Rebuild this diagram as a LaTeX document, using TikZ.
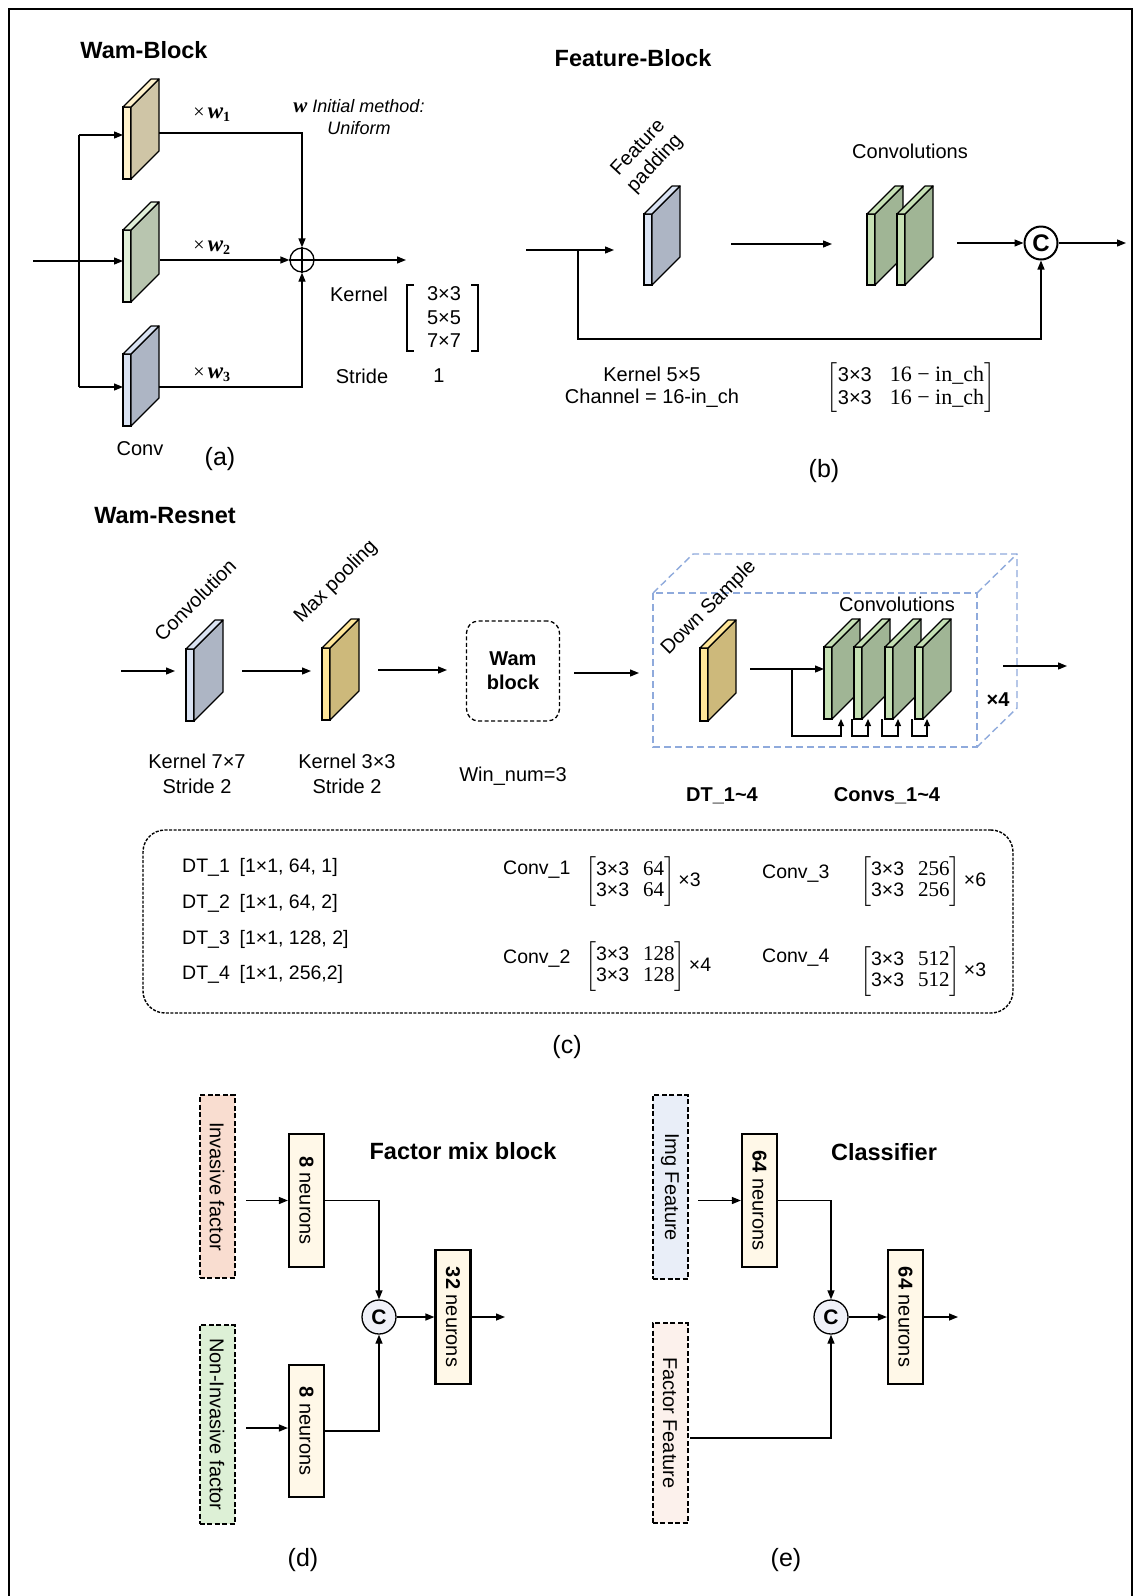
\RequirePackage{fix-cm}
\documentclass[tikz,border=0pt]{standalone}
\usepackage{amsmath}
\usepackage[no-math]{fontspec}
\setmainfont{Liberation Sans}
\newfontfamily\sr{Liberation Serif}
\usetikzlibrary{arrows.meta,calc}
\definecolor{tanF}{HTML}{FFF2CC}\definecolor{tanS}{HTML}{CFC5A6}
\definecolor{grnF}{HTML}{E2F0D9}\definecolor{grnS}{HTML}{B8C5AF}
\definecolor{bluF}{HTML}{DAE3F3}\definecolor{bluS}{HTML}{ADB5C4}
\definecolor{golF}{HTML}{FFE699}\definecolor{golS}{HTML}{CDB97B}
\definecolor{cnvF}{HTML}{C5E0B4}\definecolor{cnvS}{HTML}{A0B595}
\definecolor{cubeC}{HTML}{8FAADC}
\definecolor{invF}{HTML}{F9DDD0}\definecolor{noninvF}{HTML}{DDF0D6}
\definecolor{imgF}{HTML}{E9EEF8}\definecolor{facF}{HTML}{FCF1EC}
\definecolor{neuF}{HTML}{FFF8E8}\definecolor{cF}{HTML}{F0F1F8}
% #1 name, #2 x left, #3 y top, #4 height, #5 front colour, #6 side colour, #7 depth
\newcommand{\myplate}[7]{%
  \node[platefront,fill=#5,minimum height=#4pt] (#1) at (#2+4,#3+#4/2) {};
  \filldraw[plateline,fill=#6] (#1.north east) -- ++(#7,-#7) -- ++(0,#4) -- (#1.south east) -- cycle;
  \filldraw[plateline,fill=#5] (#1.north west) -- ++(#7,-#7) -- ++(8,0) -- (#1.north east) -- cycle;
}
\newcommand{\tmat}[1]{$\left[\begin{tabular}{@{}l@{\hspace{14pt}}r@{}}3×3 & {\sr\fontsize{21}{21}\selectfont #1}\\ 3×3 & {\sr\fontsize{21}{21}\selectfont #1}\end{tabular}\right]$}
\newcommand{\wlab}[1]{{\sr ×}\,{\sr\bfseries\itshape\fontsize{23}{23}\selectfont w}\textsubscript{\sr\bfseries #1}}
\begin{document}
\begin{tikzpicture}[x=1pt,y=-1pt,
  ln/.style={line width=1.3pt},
  arr/.style={line width=1.3pt,-{Triangle[length=9pt,width=7pt]}},
  sarr/.style={line width=1.2pt,-{Triangle[length=7pt,width=6pt]}},
  platefront/.style={draw,line width=1.2pt,minimum width=8pt,inner sep=0pt,outer sep=0pt},
  plateline/.style={line width=1.2pt,line join=round},
  txt/.style={font=\fontsize{20}{23}\selectfont,inner sep=0pt,align=center},
  btxt/.style={font=\fontsize{20}{23}\selectfont\bfseries,inner sep=0pt,align=center},
  ttl/.style={font=\fontsize{23.5}{27}\selectfont\bfseries,inner sep=0pt},
  sub/.style={font=\fontsize{25}{29}\selectfont,inner sep=0pt},
  tab/.style={font=\fontsize{19.5}{21}\selectfont,inner sep=0pt,anchor=west},
  fbox/.style={draw,dash pattern=on 5pt off 2.5pt,line width=2pt,minimum width=35pt,inner sep=0pt,font=\fontsize{20}{23}\selectfont},
  nbox/.style={draw,line width=2.2pt,fill=neuF,minimum width=35pt,minimum height=133pt,inner sep=0pt,font=\fontsize{20}{23}\selectfont},
  cnode/.style={circle,draw,line width=1.3pt,fill=cF,minimum size=34pt,inner sep=0pt,font=\fontsize{21}{22}\selectfont\bfseries},
  cube/.style={draw=cubeC,line width=1.4pt,dash pattern=on 7pt off 4pt}]
\useasboundingbox (0,0) rectangle (1140,1596);
\fill[white] (0,0) rectangle (1140,1596);
\draw[line width=1.5pt] (9,1596) -- (9,9) -- (1132,9) -- (1132,1596);

% titles
\node[ttl] (tA) at (144,50) {Wam-Block};
\node[ttl] (tB) at (633,58) {Feature-Block};
\node[ttl] (tC) at (165,516) {Wam-Resnet};
\node[ttl] (tD) at (463,1151) {Factor mix block};
\node[ttl] (tE) at (884,1152) {Classifier};

% ---------------- (a)
\myplate{a1}{123}{107}{72}{tanF}{tanS}{28}
\myplate{a2}{123}{230}{72}{grnF}{grnS}{28}
\myplate{a3}{123}{354}{72}{bluF}{bluS}{28}
\coordinate (ain) at (33,261);
\draw[arr] (ain) -- (ain -| a2.west);
\coordinate (av1) at (79,135);
\coordinate (av3) at (79,387);
\draw[ln] (av1) -- (av3);
\draw[arr] (av1) -- (av1 -| a1.west);
\draw[arr] (av3) -- (av3 -| a3.west);
\node[circle,draw,line width=1.3pt,minimum size=24pt,inner sep=0pt] (op) at (302,260) {};
\draw[line width=1.3pt] (op.north) -- (op.south) (op.west) -- (op.east);
\coordinate (ao1) at (159,133);
\coordinate (ao2) at (160,260);
\coordinate (ao3) at (159,387);
\draw[arr] (ao1) -| (op.north);
\draw[arr] (ao2) -- (op.west);
\draw[arr] (ao3) -| (op.south);
\coordinate (aout) at (406,260);
\draw[arr] (op.east) -- (aout);
\node[txt] (w1) at (212,115) {\wlab{1}};
\node[txt] (w2) at (212,248) {\wlab{2}};
\node[txt] (w3) at (212,375) {\wlab{3}};
\node[txt,font=\fontsize{18}{21}\selectfont\itshape] (winit) at (359,106) {{\sr\bfseries\fontsize{21}{21}\selectfont w} Initial method:};
\node[txt,font=\fontsize{18}{21}\selectfont\itshape] (wuni) at (359,128) {Uniform};
\node[txt] (kern) at (359,294) {Kernel};
\draw[line width=1.2pt] (414,285) -- (407,285) -- (407,351) -- (414,351);
\draw[line width=1.2pt] (471,285) -- (478,285) -- (478,351) -- (471,351);
\node[txt] (k3) at (444,294) {3×3};
\node[txt] (k5) at (444,318) {5×5};
\node[txt] (k7) at (444,341) {7×7};
\node[txt] (strA) at (362,376) {Stride};
\node[txt] (s1) at (439,376) {1};
\node[txt] (convA) at (140,449) {Conv};
\node[sub] (capA) at (220,459) {(a)};

% ---------------- (b)
\myplate{b1}{644}{214}{71}{bluF}{bluS}{28}
\myplate{b2}{867}{214}{71}{cnvF}{cnvS}{28}
\myplate{b3}{897}{214}{71}{cnvF}{cnvS}{28}
\node[txt,rotate=47] (fpad) at (647,156) {Feature\\padding};
\node[txt] (convB) at (910,151) {Convolutions};
\coordinate (bin) at (526,250);
\coordinate (bine) at (614,250);
\draw[arr] (bin) -- (bine);
\coordinate (bbr) at (578,250);
\coordinate (bbot) at (578,339);
\node[circle,draw,line width=2pt,fill=white,minimum size=33pt,inner sep=0pt,font=\fontsize{24}{26}\selectfont\bfseries] (bc) at (1041,243) {C};
\draw[arr] (bbr) -- (bbot) -| (bc.south);
\coordinate (bm1) at (731,244);
\coordinate (bm2) at (832,244);
\draw[arr] (bm1) -- (bm2);
\coordinate (bm3) at (957,243);
\draw[arr] (bm3) -- (bc.west);
\coordinate (bout) at (1126,243);
\draw[arr] (bc.east) -- (bout);
\node[txt] (bk1) at (652,374) {Kernel 5×5};
\node[txt] (bk2) at (652,398) {Channel = 16-in\_ch};
\node[txt] (bmat) at (911,388) {$\left[\begin{tabular}{@{}l@{\hspace{18pt}}l@{}}3×3 & {\sr\fontsize{22}{22}\selectfont 16 − in\_ch}\\ 3×3 & {\sr\fontsize{22}{22}\selectfont 16 − in\_ch}\end{tabular}\right]$};
\node[sub] (capB) at (824,471) {(b)};

% ---------------- (c)
\coordinate (cin) at (121,671);
\coordinate (cine) at (175,671);
\draw[arr] (cin) -- (cine);
\myplate{c1}{186}{649}{72}{bluF}{bluS}{29}
\node[txt,rotate=45] (lconv) at (195,600) {Convolution};
\coordinate (cm1) at (242,671);
\coordinate (cm1e) at (311,671);
\draw[arr] (cm1) -- (cm1e);
\myplate{c2}{322}{648}{72}{golF}{golS}{29}
\node[txt,rotate=45] (lmax) at (336,582) {Max pooling};
\coordinate (cm2) at (378,670);
\coordinate (cm2e) at (447,670);
\draw[arr] (cm2) -- (cm2e);
\node[draw,dash pattern=on 4pt off 2.5pt,rounded corners=12pt,minimum width=93pt,minimum height=100pt,line width=1.3pt,font=\fontsize{20}{24}\selectfont\bfseries,align=center] (wam) at (513,671) {Wam\\block};
\coordinate (cm3) at (574,673);
\coordinate (cm3e) at (639,673);
\draw[arr] (cm3) -- (cm3e);
% dashed cube
\draw[cube] (653,593) rectangle (977,747);
\draw[cube] (653,593) -- (693,554) -- (1017,554) -- (1017,708) -- (977,747);
\draw[cube] (977,593) -- (1017,554);
\myplate{c3}{700}{648}{73}{golF}{golS}{28}
\node[txt,rotate=45] (ldown) at (709,608) {Down Sample};
\myplate{g1}{824}{647}{72}{cnvF}{cnvS}{28}
\myplate{g2}{854}{647}{72}{cnvF}{cnvS}{28}
\myplate{g3}{885}{647}{72}{cnvF}{cnvS}{28}
\myplate{g4}{915}{647}{72}{cnvF}{cnvS}{28}
\node[txt] (convC) at (897,604) {Convolutions};
\coordinate (cd1) at (750,669);
\draw[arr] (cd1) -- (cd1 -| g1.west);
\coordinate (lp1a) at (792,669);
\coordinate (lp1b) at (841,719);
\coordinate (lp2b) at (868,719);
\coordinate (lp3b) at (898,719);
\coordinate (lp4b) at (927,719);
\draw[sarr] (lp1a) -- ++(0,67) -| (lp1b);
\draw[sarr] ([xshift=-2pt]g2.south west) -- ++(0,17) -| (lp2b);
\draw[sarr] ([xshift=-3pt]g3.south west) -- ++(0,17) -| (lp3b);
\draw[sarr] ([xshift=-3pt]g4.south west) -- ++(0,17) -| (lp4b);
\node[btxt] (x4) at (998,700) {×4};
\coordinate (cout) at (1003,666);
\coordinate (coute) at (1067,666);
\draw[arr] (cout) -- (coute);
\node[txt] (kc1) at (197,761) {Kernel 7×7};
\node[txt] (sc1) at (197,786) {Stride 2};
\node[txt] (kc2) at (347,761) {Kernel 3×3};
\node[txt] (sc2) at (347,786) {Stride 2};
\node[txt] (winn) at (513,776) {Win\_num=3};
\node[btxt] (dtl) at (722,796) {DT\_1\textasciitilde4};
\node[btxt] (cvl) at (887,796) {Convs\_1\textasciitilde4};

% table
\node[draw,dash pattern=on 3pt off 1.5pt,line width=1.4pt,rounded corners=22pt,minimum width=870pt,minimum height=183pt,inner sep=0pt] (tbl) at (578,921.5) {};
\node[tab] (dt1) at (182,867) {DT\_1\enspace[1×1, 64, 1]};
\node[tab] (dt2) at (182,903) {DT\_2\enspace[1×1, 64, 2]};
\node[tab] (dt3) at (182,939) {DT\_3\enspace[1×1, 128, 2]};
\node[tab] (dt4) at (182,974) {DT\_4\enspace[1×1, 256,2]};
\node[tab] (cv1) at (503,870) {Conv\_1};
\node[tab] (cv2) at (503,959) {Conv\_2};
\node[tab] (cv3) at (762,874) {Conv\_3};
\node[tab] (cv4) at (762,958) {Conv\_4};
\node[tab] (m1t) at (585,882) {\tmat{64}\,×3};
\node[tab] (m2t) at (585,967) {\tmat{128}\,×4};
\node[tab] (m3t) at (860,882) {\tmat{256}\,×6};
\node[tab] (m4t) at (860,972) {\tmat{512}\,×3};
\node[sub] (capC) at (567,1047) {(c)};

% ---------------- (d)
\node[fbox,fill=invF,minimum height=183pt] (inv) at (217,1186.5) {\rotatebox{-90}{Invasive factor}};
\node[fbox,fill=noninvF,minimum height=199pt] (ninv) at (217,1424.5) {\rotatebox{-90}{Non-Invasive factor}};
\node[nbox] (n1) at (306.5,1200.5) {\rotatebox{-90}{\textbf{8} neurons}};
\node[nbox,minimum height=132pt] (n2) at (306.5,1431) {\rotatebox{-90}{\textbf{8} neurons}};
\node[cnode] (cd) at (379,1317) {C};
\node[nbox,minimum height=134pt] (n3) at (453,1317) {\rotatebox{-90}{\textbf{32} neurons}};
\coordinate (din1) at (246,1200.5);
\coordinate (din2) at (246,1428);
\draw[arr] (din1) -- (din1 -| n1.west);
\draw[arr] (din2) -- (din2 -| n2.west);
\draw[arr] (n1.east) -| (cd.north);
\draw[arr] (n2.east) -| (cd.south);
\draw[arr] (cd.east) -- (n3.west);
\coordinate (dout) at (505,1317);
\draw[arr] (n3.east) -- (dout);
\node[sub] (capD) at (303,1560) {(d)};

% ---------------- (e)
\node[fbox,fill=imgF,minimum height=184pt] (img) at (670,1187) {\rotatebox{-90}{Img Feature}};
\node[fbox,fill=facF,minimum height=200pt] (fac) at (670,1423) {\rotatebox{-90}{Factor Feature}};
\node[nbox] (m1) at (759.5,1200.5) {\rotatebox{-90}{\textbf{64} neurons}};
\node[cnode] (ce) at (831,1317) {C};
\node[nbox,minimum height=134pt] (m2) at (905.5,1317) {\rotatebox{-90}{\textbf{64} neurons}};
\coordinate (ein) at (698,1200.5);
\draw[arr] (ein) -- (m1.west);
\draw[arr] (m1.east) -| (ce.north);
\coordinate (efo) at (690,1438);
\draw[arr] (efo) -| (ce.south);
\draw[arr] (ce.east) -- (m2.west);
\coordinate (eout) at (958,1317);
\draw[arr] (m2.east) -- (eout);
\node[sub] (capE) at (786,1560) {(e)};
\end{tikzpicture}
\end{document}
